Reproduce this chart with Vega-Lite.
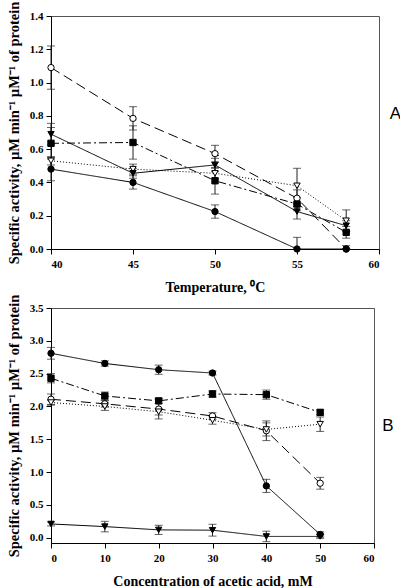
{
  "$schema": "https://vega.github.io/schema/vega-lite/v6.json",
  "background": "white",
  "padding": {"left": 5, "top": 0, "right": 0, "bottom": 0},
  "bounds": "flush",
  "spacing": 59,
  "config": {
    "view": {"stroke": "#555", "strokeWidth": 1},
    "axis": {
      "grid": false, "domainColor": "black", "tickColor": "black", "labelColor": "black", "titleColor": "black",
      "labelFont": "Liberation Serif", "labelFontWeight": "bold", "labelFontSize": 11,
      "titleFont": "Liberation Serif", "titleFontWeight": "bold", "tickSize": 5, "labelPadding": 3,
      "labelOverlap": false
    },
    "axisX": {"titleFontSize": 14, "titlePadding": 11, "labelPadding": 4},
    "axisY": {"titleFontSize": 14.5, "titlePadding": 8}
  },
  "datasets": {
    "tempA": [
      {"x": 40, "y": 1.09, "lo": 0.96, "hi": 1.22, "s": "oc"},
      {"x": 45, "y": 0.785, "lo": 0.715, "hi": 0.855, "s": "oc"},
      {"x": 50, "y": 0.573, "lo": 0.523, "hi": 0.623, "s": "oc"},
      {"x": 55, "y": 0.305, "lo": 0.255, "hi": 0.355, "s": "oc"},
      {"x": 58, "y": 0.0, "lo": 0.0, "hi": 0.0, "s": "oc"},
      {"x": 40, "y": 0.53, "lo": 0.505, "hi": 0.555, "s": "ot"},
      {"x": 45, "y": 0.48, "lo": 0.45, "hi": 0.51, "s": "ot"},
      {"x": 50, "y": 0.455, "lo": 0.425, "hi": 0.485, "s": "ot"},
      {"x": 55, "y": 0.38, "lo": 0.275, "hi": 0.485, "s": "ot"},
      {"x": 58, "y": 0.17, "lo": 0.105, "hi": 0.235, "s": "ot"},
      {"x": 40, "y": 0.69, "lo": 0.625, "hi": 0.755, "s": "ft"},
      {"x": 45, "y": 0.455, "lo": 0.425, "hi": 0.485, "s": "ft"},
      {"x": 50, "y": 0.505, "lo": 0.465, "hi": 0.545, "s": "ft"},
      {"x": 55, "y": 0.225, "lo": 0.18, "hi": 0.27, "s": "ft"},
      {"x": 58, "y": 0.14, "lo": 0.11, "hi": 0.17, "s": "ft"},
      {"x": 40, "y": 0.635, "lo": 0.54, "hi": 0.73, "s": "fs"},
      {"x": 45, "y": 0.64, "lo": 0.54, "hi": 0.74, "s": "fs"},
      {"x": 50, "y": 0.41, "lo": 0.33, "hi": 0.49, "s": "fs"},
      {"x": 55, "y": 0.27, "lo": 0.23, "hi": 0.31, "s": "fs"},
      {"x": 58, "y": 0.10, "lo": 0.065, "hi": 0.135, "s": "fs"},
      {"x": 40, "y": 0.48, "lo": 0.41, "hi": 0.55, "s": "fc"},
      {"x": 45, "y": 0.40, "lo": 0.36, "hi": 0.44, "s": "fc"},
      {"x": 50, "y": 0.225, "lo": 0.185, "hi": 0.265, "s": "fc"},
      {"x": 55, "y": 0.0, "lo": 0.0, "hi": 0.07, "s": "fc"},
      {"x": 58, "y": 0.0, "lo": 0.0, "hi": 0.02, "s": "fc"}
    ],
    "acidB": [
      {"x": 0, "y": 2.11, "lo": 2.03, "hi": 2.19, "s": "oc"},
      {"x": 10, "y": 2.04, "lo": 1.99, "hi": 2.09, "s": "oc"},
      {"x": 20, "y": 1.96, "lo": 1.81, "hi": 2.11, "s": "oc"},
      {"x": 30, "y": 1.855, "lo": 1.805, "hi": 1.905, "s": "oc"},
      {"x": 40, "y": 1.63, "lo": 1.48, "hi": 1.78, "s": "oc"},
      {"x": 50, "y": 0.83, "lo": 0.74, "hi": 0.92, "s": "oc"},
      {"x": 0, "y": 2.06, "lo": 2.02, "hi": 2.10, "s": "ot"},
      {"x": 10, "y": 2.0, "lo": 1.94, "hi": 2.06, "s": "ot"},
      {"x": 20, "y": 1.92, "lo": 1.87, "hi": 1.97, "s": "ot"},
      {"x": 30, "y": 1.79, "lo": 1.73, "hi": 1.85, "s": "ot"},
      {"x": 40, "y": 1.65, "lo": 1.55, "hi": 1.75, "s": "ot"},
      {"x": 50, "y": 1.73, "lo": 1.62, "hi": 1.84, "s": "ot"},
      {"x": 0, "y": 0.21, "lo": 0.18, "hi": 0.24, "s": "ft"},
      {"x": 10, "y": 0.17, "lo": 0.09, "hi": 0.25, "s": "ft"},
      {"x": 20, "y": 0.12, "lo": 0.05, "hi": 0.19, "s": "ft"},
      {"x": 30, "y": 0.115, "lo": 0.025, "hi": 0.205, "s": "ft"},
      {"x": 40, "y": 0.02, "lo": -0.06, "hi": 0.10, "s": "ft"},
      {"x": 50, "y": 0.02, "lo": -0.01, "hi": 0.05, "s": "ft"},
      {"x": 0, "y": 2.43, "lo": 2.36, "hi": 2.50, "s": "fs"},
      {"x": 10, "y": 2.16, "lo": 2.10, "hi": 2.22, "s": "fs"},
      {"x": 20, "y": 2.085, "lo": 2.045, "hi": 2.125, "s": "fs"},
      {"x": 30, "y": 2.19, "lo": 2.14, "hi": 2.24, "s": "fs"},
      {"x": 40, "y": 2.18, "lo": 2.11, "hi": 2.25, "s": "fs"},
      {"x": 50, "y": 1.91, "lo": 1.87, "hi": 1.95, "s": "fs"},
      {"x": 0, "y": 2.81, "lo": 2.72, "hi": 2.90, "s": "fc"},
      {"x": 10, "y": 2.655, "lo": 2.615, "hi": 2.695, "s": "fc"},
      {"x": 20, "y": 2.56, "lo": 2.49, "hi": 2.63, "s": "fc"},
      {"x": 30, "y": 2.51, "lo": 2.48, "hi": 2.54, "s": "fc"},
      {"x": 40, "y": 0.79, "lo": 0.69, "hi": 0.89, "s": "fc"},
      {"x": 50, "y": 0.05, "lo": 0.01, "hi": 0.09, "s": "fc"}
    ],
    "labelA": [{"x": 61.0, "y": 0.81, "t": "A"}],
    "labelB": [{"x": 62.6, "y": 1.7, "t": "B"}]
  },
  "vconcat": [
    {
      "width": 328,
      "height": 233,
      "encoding": {
        "x": {"field": "x", "type": "quantitative", "scale": {"domain": [40, 60], "nice": false},
              "axis": {"values": [40, 45, 50, 55, 60], "title": "Temperature, ⁰C", "labelOverlap": false}},
        "y": {"field": "y", "type": "quantitative", "scale": {"domain": [0, 1.4], "nice": false},
              "axis": {"values": [0, 0.2, 0.4, 0.6, 0.8, 1.0, 1.2, 1.4], "format": ".1f", "labelOverlap": false, "tickCount": 8, "title": "Specific activity, µM min⁻¹ µM⁻¹ of protein"}}
      },
      "layer": [
        {
          "data": {"name": "tempA"},
          "mark": {"type": "rule", "color": "#222", "strokeWidth": 1},
          "encoding": {
            "y": {"field": "lo", "type": "quantitative", "scale": {"domain": [0, 1.4], "nice": false},
                  "axis": {"values": [0, 0.2, 0.4, 0.6, 0.8, 1.0, 1.2, 1.4], "format": ".1f", "labelOverlap": false, "tickCount": 8, "title": "Specific activity, µM min⁻¹ µM⁻¹ of protein"}},
            "y2": {"field": "hi"}
          }
        },
        {
          "data": {"name": "tempA"},
          "mark": {"type": "tick", "color": "#222", "orient": "horizontal", "size": 8, "thickness": 1},
          "encoding": {
            "y": {"field": "lo", "type": "quantitative", "scale": {"domain": [0, 1.4], "nice": false},
                  "axis": {"values": [0, 0.2, 0.4, 0.6, 0.8, 1.0, 1.2, 1.4], "format": ".1f", "labelOverlap": false, "tickCount": 8, "title": "Specific activity, µM min⁻¹ µM⁻¹ of protein"}}
          }
        },
        {
          "data": {"name": "tempA"},
          "mark": {"type": "tick", "color": "#222", "orient": "horizontal", "size": 8, "thickness": 1},
          "encoding": {
            "y": {"field": "hi", "type": "quantitative", "scale": {"domain": [0, 1.4], "nice": false},
                  "axis": {"values": [0, 0.2, 0.4, 0.6, 0.8, 1.0, 1.2, 1.4], "format": ".1f", "labelOverlap": false, "tickCount": 8, "title": "Specific activity, µM min⁻¹ µM⁻¹ of protein"}}
          }
        },
        {
          "data": {"name": "tempA"},
          "mark": {"type": "line", "color": "black", "strokeWidth": 1},
          "encoding": {
            "detail": {"field": "s", "type": "nominal"},
            "strokeDash": {"field": "s", "type": "nominal", "legend": null,
              "scale": {"domain": ["oc", "ot", "ft", "fs", "fc"], "range": [[10, 5], [1, 2], [1, 0], [8, 3, 2, 3], [1, 0]]}}
          }
        },
        {
          "data": {"name": "tempA"},
          "mark": {"type": "point", "filled": false, "color": "black", "size": 40, "strokeWidth": 1, "opacity": 1},
          "encoding": {
            "shape": {"field": "s", "type": "nominal", "legend": null,
              "scale": {"domain": ["oc", "ot", "ft", "fs", "fc"], "range": ["circle", "triangle-down", "triangle-down", "square", "circle"]}},
            "fill": {"field": "s", "type": "nominal", "legend": null,
              "scale": {"domain": ["oc", "ot", "ft", "fs", "fc"], "range": ["white", "white", "black", "black", "black"]}}
          }
        },
        {
          "data": {"name": "labelA"},
          "mark": {"type": "text", "font": "Liberation Sans", "fontSize": 17, "align": "center", "baseline": "middle", "color": "black"},
          "encoding": {
            "text": {"field": "t"}
          }
        }
      ]
    },
    {
      "width": 323,
      "height": 235,
      "encoding": {
        "x": {"field": "x", "type": "quantitative", "scale": {"domain": [0, 60], "nice": false},
              "axis": {"values": [0, 10, 20, 30, 40, 50, 60], "title": "Concentration of acetic acid, mM", "labelOverlap": false}},
        "y": {"field": "y", "type": "quantitative", "scale": {"domain": [-0.08, 3.5], "nice": false, "zero": false},
              "axis": {"values": [0, 0.5, 1.0, 1.5, 2.0, 2.5, 3.0, 3.5], "format": ".1f", "labelOverlap": false, "tickCount": 8, "title": "Specific activity, µM min⁻¹ µM⁻¹ of protein"}}
      },
      "layer": [
        {
          "data": {"name": "acidB"},
          "mark": {"type": "rule", "color": "#222", "strokeWidth": 1},
          "encoding": {
            "y": {"field": "lo", "type": "quantitative", "scale": {"domain": [-0.08, 3.5], "nice": false, "zero": false},
                  "axis": {"values": [0, 0.5, 1.0, 1.5, 2.0, 2.5, 3.0, 3.5], "format": ".1f", "labelOverlap": false, "tickCount": 8, "title": "Specific activity, µM min⁻¹ µM⁻¹ of protein"}},
            "y2": {"field": "hi"}
          }
        },
        {
          "data": {"name": "acidB"},
          "mark": {"type": "tick", "color": "#222", "orient": "horizontal", "size": 8, "thickness": 1},
          "encoding": {
            "y": {"field": "lo", "type": "quantitative", "scale": {"domain": [-0.08, 3.5], "nice": false, "zero": false},
                  "axis": {"values": [0, 0.5, 1.0, 1.5, 2.0, 2.5, 3.0, 3.5], "format": ".1f", "labelOverlap": false, "tickCount": 8, "title": "Specific activity, µM min⁻¹ µM⁻¹ of protein"}}
          }
        },
        {
          "data": {"name": "acidB"},
          "mark": {"type": "tick", "color": "#222", "orient": "horizontal", "size": 8, "thickness": 1},
          "encoding": {
            "y": {"field": "hi", "type": "quantitative", "scale": {"domain": [-0.08, 3.5], "nice": false, "zero": false},
                  "axis": {"values": [0, 0.5, 1.0, 1.5, 2.0, 2.5, 3.0, 3.5], "format": ".1f", "labelOverlap": false, "tickCount": 8, "title": "Specific activity, µM min⁻¹ µM⁻¹ of protein"}}
          }
        },
        {
          "data": {"name": "acidB"},
          "mark": {"type": "line", "color": "black", "strokeWidth": 1},
          "encoding": {
            "detail": {"field": "s", "type": "nominal"},
            "strokeDash": {"field": "s", "type": "nominal", "legend": null,
              "scale": {"domain": ["oc", "ot", "ft", "fs", "fc"], "range": [[10, 5], [1, 2], [1, 0], [8, 3, 2, 3], [1, 0]]}}
          }
        },
        {
          "data": {"name": "acidB"},
          "mark": {"type": "point", "filled": false, "color": "black", "size": 40, "strokeWidth": 1, "opacity": 1},
          "encoding": {
            "shape": {"field": "s", "type": "nominal", "legend": null,
              "scale": {"domain": ["oc", "ot", "ft", "fs", "fc"], "range": ["circle", "triangle-down", "triangle-down", "square", "circle"]}},
            "fill": {"field": "s", "type": "nominal", "legend": null,
              "scale": {"domain": ["oc", "ot", "ft", "fs", "fc"], "range": ["white", "white", "black", "black", "black"]}}
          }
        },
        {
          "data": {"name": "labelB"},
          "mark": {"type": "text", "font": "Liberation Sans", "fontSize": 17, "align": "center", "baseline": "middle", "color": "black"},
          "encoding": {
            "text": {"field": "t"}
          }
        }
      ]
    }
  ]
}
